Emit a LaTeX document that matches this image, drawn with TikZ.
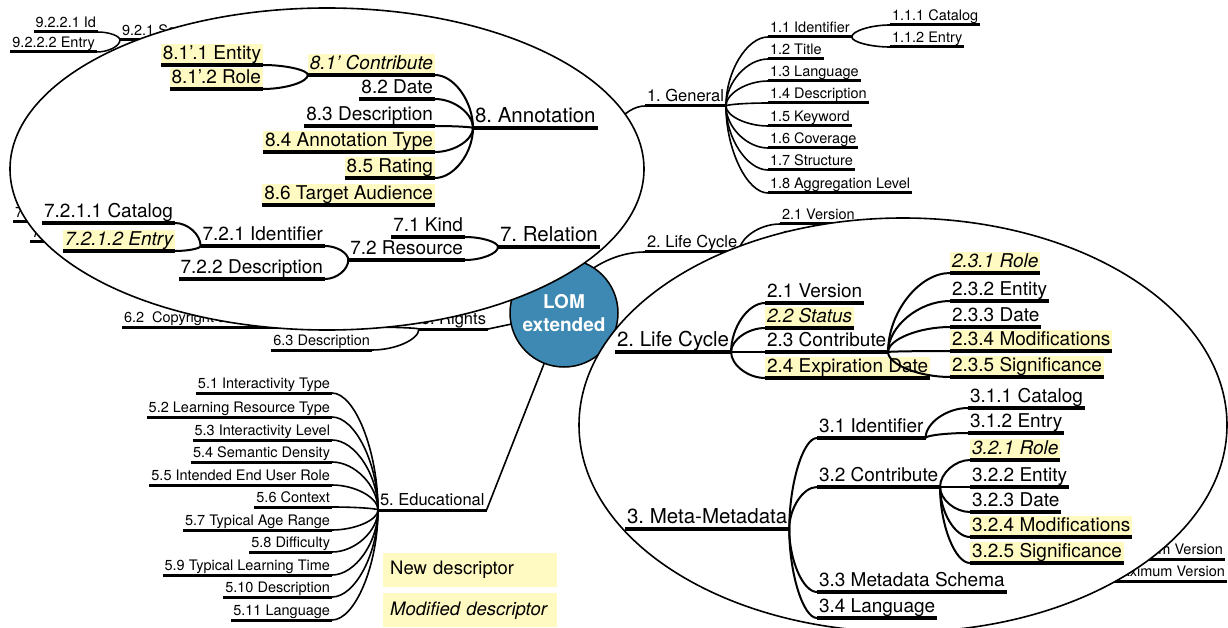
\documentclass[tikz,border=0pt]{standalone}
\usepackage{fontspec}
\setmainfont{TeX Gyre Heros}
\usetikzlibrary{calc,positioning}

\definecolor{lomblue}{HTML}{3D89B3}
\definecolor{hiyellow}{HTML}{FFFAC2}

\tikzset{
	lbl/.style={inner xsep=2pt, inner ysep=1.5pt, outer sep=0pt},
	ul/.style={append after command={(\tikzlastnode.south west) edge[line width=#1] (\tikzlastnode.south east)}},
	rside/.style={anchor=south west},
	lside/.style={anchor=south east},
	topic/.style={lbl, ul=3.5pt, text height=15.5pt, text depth=4pt, font=\fontsize{20.5}{24}\selectfont},
	sub/.style={lbl, ul=3.5pt, text height=14.5pt, text depth=3.8pt, font=\fontsize{19}{22}\selectfont},
	bgtopic/.style={lbl, ul=3pt, text height=12.5pt, text depth=3.3pt, font=\fontsize{16.5}{19}\selectfont},
	bgsub/.style={lbl, ul=3pt, text height=11pt, text depth=3pt, font=\fontsize{14.5}{17}\selectfont},
	newd/.style={fill=hiyellow},
	modd/.style={fill=hiyellow, execute at begin node=\itshape},
	link/.style={line width=#1, to path={.. controls ($(\tikztostart)!0.5!(\tikztostart|-\tikztotarget)$) and ($(\tikztotarget)!0.5!(\tikztostart|-\tikztotarget)$) .. (\tikztotarget)}},
	link/.default=2pt,
	lens/.style={draw, fill=white, line width=1.6pt},
	hub/.style={circle, draw, line width=1.5pt, fill=lomblue, minimum size=108pt, inner sep=0pt, text=white, align=center, font=\bfseries\fontsize{19}{23}\selectfont},
	legend/.style={anchor=north west, fill=hiyellow, text width=160pt, inner xsep=7pt, minimum height=34pt, font=\fontsize{18.5}{21}\selectfont},
}

\begin{document}
\frenchspacing
\begin{tikzpicture}[x=1pt, y=-1pt]
	\useasboundingbox (0,0) rectangle (1228,628);

	% Background map: 9. Classification (cut)
	\node[bgsub, rside] (s921) at (120,40) {9.2.1 Source};
	\node[bgsub, lside] (s9221) at (98,32) {9.2.2.1 Id};
	\node[bgsub, lside] (s9222) at (97,52) {9.2.2.2 Entry};
	\draw[link=1.5pt] (s921.south west) to (s9221.south east);
	\draw[link=1.5pt] (s921.south west) to (s9222.south east);

	% Background map: 7. Relation (cut)
	\node[bgsub, rside] (s7211) at (13,222) {7.2.1.1 Catalog};
	\node[bgsub, rside] (s7212) at (30,242) {7.2.1.2 Entry};

	% Background map: 1. General
	\node[bgtopic, rside] (g1) at (645,106) {1. General};
	\node[bgsub, rside] (g11) at (768,37) {1.1 Identifier};
	\node[bgsub, rside] (g12) at (768,59) {1.2 Title};
	\node[bgsub, rside] (g13) at (768,81) {1.3 Language};
	\node[bgsub, rside] (g14) at (768,103) {1.4 Description};
	\node[bgsub, rside] (g15) at (768,126) {1.5 Keyword};
	\node[bgsub, rside] (g16) at (768,148) {1.6 Coverage};
	\node[bgsub, rside] (g17) at (768,170) {1.7 Structure};
	\node[bgsub, rside] (g18) at (768,193) {1.8 Aggregation Level};
	\node[bgsub, rside] (g111) at (890,25) {1.1.1 Catalog};
	\node[bgsub, rside] (g112) at (890,47) {1.1.2 Entry};
	\draw[link=1.6pt] (g1.south east) to (g11.south west);
	\draw[link=1.6pt] (g1.south east) to (g12.south west);
	\draw[link=1.6pt] (g1.south east) to (g13.south west);
	\draw[link=1.6pt] (g1.south east) to (g14.south west);
	\draw[link=1.6pt] (g1.south east) to (g15.south west);
	\draw[link=1.6pt] (g1.south east) to (g16.south west);
	\draw[link=1.6pt] (g1.south east) to (g17.south west);
	\draw[link=1.6pt] (g1.south east) to (g18.south west);
	\draw[link=1.6pt] (g11.south east) to (g111.south west);
	\draw[link=1.6pt] (g11.south east) to (g112.south west);

	% Background map: 2. Life Cycle
	\node[bgtopic, rside] (b2) at (645,252) {2. Life Cycle};
	\node[bgsub, rside] (b21) at (780,224) {2.1 Version};
	\node[bgsub, rside] (b22) at (780,246) {2.2 Status};
	\draw[link=1.6pt] (b2.south east) to (b21.south west);
	\draw[link=1.6pt] (b2.south east) to (b22.south west);

	% Background map: 6. Rights
	\node[bgtopic, lside] (r6) at (488,329) {6. Rights};
	\node[bgsub, rside] (r62) at (122,327) {6.2~~Copyright and Other Restrictions};
	\node[bgsub, lside] (r63) at (372,350) {6.3 Description};
	\draw[link=1.6pt] (r6.south west) to (r62.south east);
	\draw[link=1.6pt] (r6.south west) to (r63.south east);

	% Background map: 5. Educational
	\node[bgtopic, rside] (e5) at (378,510) {5. Educational};
	\node[bgsub, lside] (e51) at (332,393) {5.1 Interactivity Type};
	\node[bgsub, lside] (e52) at (332,417) {5.2 Learning Resource Type};
	\node[bgsub, lside] (e53) at (332,440) {5.3 Interactivity Level};
	\node[bgsub, lside] (e54) at (332,462) {5.4 Semantic Density};
	\node[bgsub, lside] (e55) at (332,485) {5.5 Intended End User Role};
	\node[bgsub, lside] (e56) at (332,507) {5.6 Context};
	\node[bgsub, lside] (e57) at (332,530) {5.7 Typical Age Range};
	\node[bgsub, lside] (e58) at (332,552) {5.8 Difficulty};
	\node[bgsub, lside] (e59) at (332,575) {5.9 Typical Learning Time};
	\node[bgsub, lside] (e510) at (332,597) {5.10 Description};
	\node[bgsub, lside] (e511) at (332,620) {5.11 Language};
	\draw[link=1.6pt] (e5.south west) to (e51.south east);
	\draw[link=1.6pt] (e5.south west) to (e52.south east);
	\draw[link=1.6pt] (e5.south west) to (e53.south east);
	\draw[link=1.6pt] (e5.south west) to (e54.south east);
	\draw[link=1.6pt] (e5.south west) to (e55.south east);
	\draw[link=1.6pt] (e5.south west) to (e56.south east);
	\draw[link=1.6pt] (e5.south west) to (e57.south east);
	\draw[link=1.6pt] (e5.south west) to (e58.south east);
	\draw[link=1.6pt] (e5.south west) to (e59.south east);
	\draw[link=1.6pt] (e5.south west) to (e510.south east);
	\draw[link=1.6pt] (e5.south west) to (e511.south east);

	% Background map: 4. Technical (cut)
	\node[bgsub, lside] (m43) at (1225,559) {4.4.1.3 Minimum Version};
	\node[bgsub, lside] (m44) at (1227,581) {4.4.1.4 Maximum Version};

	% Root and its branches
	\coordinate (hubc) at (564,313);
	\draw[link=1.6pt] (hubc) to (g1.south west);
	\draw[link=1.6pt] (hubc) to (b2.south west);
	\draw[line width=1.6pt] (hubc) -- (r6.south east);
	\draw[line width=1.6pt] (hubc) -- (e5.south east);
	\node[hub] (lom) at (hubc) {LOM\\extended};

	% Magnifier: 8. Annotation and 7. Relation
	\draw[lens] (327,169) ellipse [x radius=317pt, y radius=161pt];

	\node[topic, rside] (a8) at (473,128) {8. Annotation};
	\node[sub, modd, lside] (a81) at (435,75) {8.1’ Contribute};
	\node[sub, lside] (a82) at (435,99) {8.2 Date};
	\node[sub, lside] (a83) at (435,126) {8.3 Description};
	\node[sub, newd, lside] (a84) at (435,152) {8.4 Annotation Type};
	\node[sub, newd, lside] (a85) at (435,178) {8.5 Rating};
	\node[sub, newd, lside] (a86) at (435,205) {8.6 Target Audience};
	\node[sub, newd, lside] (a811) at (263,65) {8.1’.1 Entity};
	\node[sub, newd, lside] (a812) at (263,89) {8.1’.2 Role};
	\draw[link] (a8.south west) to (a81.south east);
	\draw[link] (a8.south west) to (a82.south east);
	\draw[link] (a8.south west) to (a83.south east);
	\draw[link] (a8.south west) to (a84.south east);
	\draw[link] (a8.south west) to (a85.south east);
	\draw[link] (a81.south west) to (a811.south east);
	\draw[link] (a81.south west) to (a812.south east);

	\node[topic, rside] (l7) at (498,247) {7. Relation};
	\node[sub, lside] (l71) at (465,237) {7.1 Kind};
	\node[sub, lside] (l72) at (465,260) {7.2 Resource};
	\node[sub, lside] (l721) at (325,246) {7.2.1 Identifier};
	\node[sub, lside] (l722) at (325,279) {7.2.2 Description};
	\node[sub, lside] (l7211) at (175,223) {7.2.1.1 Catalog};
	\node[sub, modd, lside] (l7212) at (175,251) {7.2.1.2 Entry};
	\draw[link] (l7.south west) to (l71.south east);
	\draw[link] (l7.south west) to (l72.south east);
	\draw[link] (l72.south west) to (l721.south east);
	\draw[link] (l72.south west) to (l722.south east);
	\draw[link] (l721.south west) to (l7211.south east);
	\draw[link] (l721.south west) to (l7212.south east);

	% Magnifier: 2. Life Cycle and 3. Meta-Metadata
	\draw[lens] (903,425) ellipse [x radius=324pt, y radius=207pt];

	\node[topic, rside] (c2) at (615,352) {2. Life Cycle};
	\node[sub, rside] (c21) at (765,303) {2.1 Version};
	\node[sub, modd, rside] (c22) at (765,328) {2.2 Status};
	\node[sub, rside] (c23) at (765,352) {2.3 Contribute};
	\node[sub, newd, rside] (c24) at (765,378) {2.4 Expiration Date};
	\node[sub, modd, rside] (c231) at (950,273) {2.3.1 Role};
	\node[sub, rside] (c232) at (950,301) {2.3.2 Entity};
	\node[sub, rside] (c233) at (950,327) {2.3.3 Date};
	\node[sub, newd, rside] (c234) at (950,351) {2.3.4 Modifications};
	\node[sub, newd, rside] (c235) at (950,377) {2.3.5 Significance};
	\draw[link] (c2.south east) to (c21.south west);
	\draw[link] (c2.south east) to (c22.south west);
	\draw[link] (c2.south east) to (c23.south west);
	\draw[link] (c2.south east) to (c24.south west);
	\draw[link] (c23.south east) to (c231.south west);
	\draw[link] (c23.south east) to (c232.south west);
	\draw[link] (c23.south east) to (c233.south west);
	\draw[link] (c23.south east) to (c234.south west);
	\draw[link] (c23.south east) to (c235.south west);

	\node[topic, rside] (t3) at (625,529) {3. Meta-Metadata};
	\node[sub, rside] (t31) at (817,438) {3.1 Identifier};
	\node[sub, rside] (t32) at (817,487) {3.2 Contribute};
	\node[sub, rside] (t33) at (817,592) {3.3 Metadata Schema};
	\node[sub, rside] (t34) at (817,618) {3.4 Language};
	\node[sub, rside] (t311) at (968,408) {3.1.1 Catalog};
	\node[sub, rside] (t312) at (968,433) {3.1.2 Entry};
	\node[sub, modd, rside] (t321) at (970,460) {3.2.1 Role};
	\node[sub, rside] (t322) at (970,487) {3.2.2 Entity};
	\node[sub, rside] (t323) at (970,512) {3.2.3 Date};
	\node[sub, newd, rside] (t324) at (970,537) {3.2.4 Modifications};
	\node[sub, newd, rside] (t325) at (970,563) {3.2.5 Significance};
	\draw[link] (t3.south east) to (t31.south west);
	\draw[link] (t3.south east) to (t32.south west);
	\draw[link] (t3.south east) to (t33.south west);
	\draw[link] (t3.south east) to (t34.south west);
	\draw[link] (t31.south east) to (t311.south west);
	\draw[link] (t31.south east) to (t312.south west);
	\draw[link] (t32.south east) to (t321.south west);
	\draw[link] (t32.south east) to (t322.south west);
	\draw[link] (t32.south east) to (t323.south west);
	\draw[link] (t32.south east) to (t324.south west);
	\draw[link] (t32.south east) to (t325.south west);

	% Legend
	\node[legend] (newkey) at (383,553) {New descriptor};
	\node[legend] (modkey) at (383,593) {\mbox{\itshape Modified descriptor}};

\end{tikzpicture}
\end{document}
